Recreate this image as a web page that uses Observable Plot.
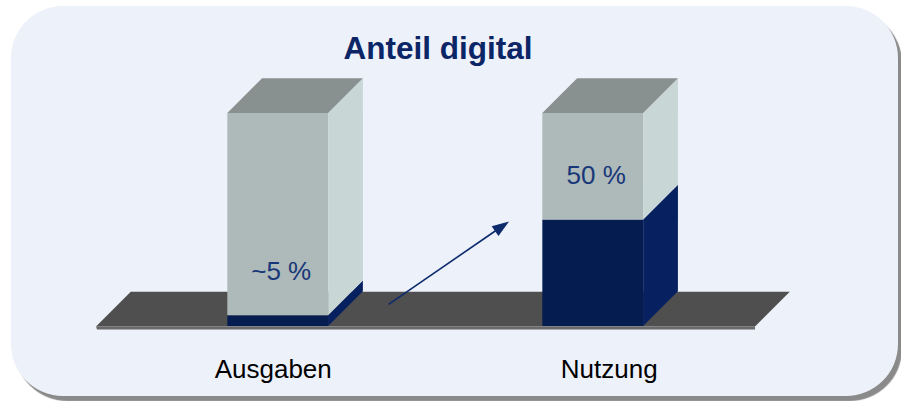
<!DOCTYPE html>
<html>
<head>
<meta charset="utf-8">
<script src="https://cdn.jsdelivr.net/npm/d3@7"></script>
<script src="https://cdn.jsdelivr.net/npm/@observablehq/plot@0.6"></script>
<style>
  html, body { margin: 0; padding: 0; background: #ffffff; }
  #wrap { position: relative; width: 901px; height: 401px; overflow: hidden; font-family: "Liberation Sans", Arial, sans-serif; }
  #panel { position: absolute; left: 11px; top: 6px; width: 887px; height: 390px; border-radius: 52px; background: #edf1f9; box-shadow: 4px 5px 1px #8a8a8a; }
  #chart { position: absolute; left: 0; top: 0; }
</style>
</head>
<body>
<div id="wrap"><div id="panel"></div><div id="chart"></div></div>
<script>
// ---- data ----
const categories = ["Ausgaben", "Nutzung"];
const digitalShare = [5, 50];      // percent digital (navy part)
const totalShare = [100, 100];     // full bar = 100 %
const valueLabels = ["~5 %", "50 %"];
const chartTitle = "Anteil digital";
const arrowFrom = "Ausgaben";
const arrowTo = "Nutzung";

const rows = categories.map((c, i) => ({
  category: c, digital: digitalShare[i], total: totalShare[i], label: valueLabels[i]
}));

// ---- colours ----
const C = {
  floor: "#4f4f4f", floorEdge: "#696969",
  frontGrey: "#aeb9b9", sideGrey: "#c9d6d6", top: "#889090",
  frontNavy: "#041c4f", sideNavy: "#072160",
  arrow: "#0c2a6c"
};

// custom mark drawing the 3D floor, cuboids and the arrow from the plot's scales
function scene(index, scales) {
  const {x, y} = scales;
  const bw = x.bandwidth();
  const depth = bw * 0.345;
  const [r0, r1] = x.range();
  const y0 = y(0);
  const g = d3.create("svg:g");
  const poly = (pts, fill) => g.append("polygon")
    .attr("points", pts.map(p => p.join(",")).join(" "))
    .attr("fill", fill);

  // floor
  const fy = y0 + 0.5;
  poly([[r0, fy], [r1, fy], [r1 + depth, fy - depth], [r0 + depth, fy - depth]], C.floor);
  poly([[r0, fy], [r1, fy], [r1, fy + 3], [r0 + 1, fy + 3]], C.floorEdge);

  // cuboids
  for (const d of rows) {
    const xl = x(d.category), xr = xl + bw;
    const yb = y(0), yv = y(d.digital), yt = y(d.total);
    // front faces
    poly([[xl, yb], [xr, yb], [xr, yv], [xl, yv]], C.frontNavy);
    poly([[xl, yv], [xr, yv], [xr, yt], [xl, yt]], C.frontGrey);
    // right side faces
    poly([[xr, yb], [xr + depth, yb - depth], [xr + depth, yv - depth], [xr, yv]], C.sideNavy);
    poly([[xr, yv], [xr + depth, yv - depth], [xr + depth, yt - depth], [xr, yt]], C.sideGrey);
    // top face
    poly([[xl, yt], [xr, yt], [xr + depth, yt - depth], [xl + depth, yt - depth]], C.top);
  }

  // arrow from the Ausgaben level towards the Nutzung level
  const iFrom = categories.indexOf(arrowFrom), iTo = categories.indexOf(arrowTo);
  const sx = x(arrowFrom) + bw * 1.6, sy = y(digitalShare[iFrom]) - 11;
  const ex = x(arrowTo) - bw * 0.33, ey = y(digitalShare[iTo]) + 2;
  const len = Math.hypot(ex - sx, ey - sy);
  const ux = (ex - sx) / len, uy = (ey - sy) / len;
  const hl = 17, hw = 6;
  const bx = ex - hl * ux, by = ey - hl * uy;
  g.append("line")
    .attr("x1", sx).attr("y1", sy).attr("x2", bx + ux * 2).attr("y2", by + uy * 2)
    .attr("stroke", C.arrow).attr("stroke-width", 1.6);
  poly([[ex, ey], [bx - hw * uy, by + hw * ux], [bx + hw * uy, by - hw * ux]], C.arrow);

  return g.node();
}

const catText = {
  y: () => 0, x: "category", text: "category",
  lineAnchor: "bottom", dy: 51, fontSize: 26, fill: "#000000"
};

const plot = Plot.plot({
  width: 901,
  height: 401,
  marginLeft: 96,
  marginRight: 146,
  marginTop: 113,
  marginBottom: 75,
  x: {type: "band", domain: categories, paddingInner: 0.68, paddingOuter: 0.386, align: 0.54, round: false, axis: null},
  y: {domain: [0, 100], axis: null},
  style: {background: "transparent", fontFamily: "'Liberation Sans', Arial, sans-serif", overflow: "visible"},
  marks: [
    scene,
    Plot.text(rows, {
      x: "category", y: "digital", text: "label",
      lineAnchor: "bottom", dy: -36, dx: 3,
      fontSize: 26, fill: "#183778"
    }),
    Plot.text(rows, {...catText, filter: d => d.category === categories[0], dx: -5}),
    Plot.text(rows, {...catText, filter: d => d.category === categories[1], dx: 16}),
    Plot.text([chartTitle], {
      frameAnchor: "top", text: d => d,
      lineAnchor: "bottom", dy: -55, dx: 12,
      fontSize: 31.5, fontWeight: "bold", fill: "#0b2566"
    })
  ]
});

document.getElementById("chart").appendChild(plot);
</script>
</body>
</html>
